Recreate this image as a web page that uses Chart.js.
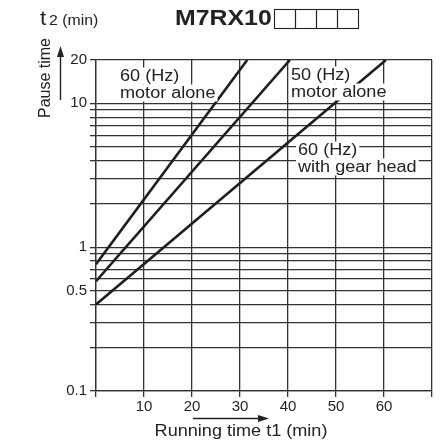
<!DOCTYPE html>
<html>
<head>
<meta charset="utf-8">
<script src="https://cdn.jsdelivr.net/npm/chart.js@4/dist/chart.umd.min.js"></script>
<style>
  html, body { margin: 0; padding: 0; background: #fff; }
  #wrap { width: 446px; height: 445px; }
</style>
</head>
<body>
<div id="wrap"><canvas id="chart" width="446" height="445"></canvas></div>
<script>
// grid values (log y axis) and the labelled ones
const yGrid = [0.1, 0.2, 0.3, 0.4, 0.5, 0.6, 0.7, 0.8, 0.9, 1, 2, 3, 4, 5, 6, 7, 8, 9, 10, 20];
const yLabels = [0.1, 0.5, 1, 10, 20];
const xLabels = [10, 20, 30, 40, 50, 60];

// running time t1 (min) vs pause time t2 (min)
const motor60 = [{ x: 0, y: 0.76 }, { x: 31.5, y: 20 }];
const motor50 = [{ x: 0, y: 0.58 }, { x: 40.4, y: 20 }];
const gear60 = [{ x: 0, y: 0.40 }, { x: 60.4, y: 20 }];

const FONT = "'Liberation Sans', Arial, sans-serif";
const SX = 1.13; // picture text is a bit wide

function wideText(ctx, str, x, y, size, weight, align) {
  ctx.save();
  ctx.font = (weight || "normal") + " " + size + "px " + FONT;
  ctx.translate(x, y);
  ctx.scale(SX, 1);
  ctx.textAlign = align || "left";
  ctx.textBaseline = "middle";
  ctx.fillText(str, 0, 0);
  ctx.restore();
}

// text labels inside the plot, each line on a white patch
function boxedLabel(ctx, lines, x, y) {
  ctx.save();
  ctx.font = "16px " + FONT;
  lines.forEach((str, i) => {
    const cy = y + i * 17;
    const w = ctx.measureText(str).width * SX;
    ctx.fillStyle = "#fff";
    ctx.fillRect(x - 2, cy - 8.5, w + 4, 17);
    ctx.fillStyle = "#222";
    wideText(ctx, str, x, cy + 1, 16);
  });
  ctx.restore();
}

const extras = {
  id: "extras",
  afterDatasetsDraw(chart) {
    const ctx = chart.ctx;
    boxedLabel(ctx, ["60 (Hz)", "motor alone"], 120, 76);
    boxedLabel(ctx, ["50 (Hz)", "motor alone"], 291, 75);
    boxedLabel(ctx, ["60 (Hz)", "with gear head"], 298, 150);
  },
  afterDraw(chart) {
    const ctx = chart.ctx;
    ctx.save();
    ctx.fillStyle = "#222";
    ctx.strokeStyle = "#222";

    // title with the four blank boxes
    wideText(ctx, "M7RX10", 175, 19, 22, "bold");
    ctx.lineWidth = 1.1;
    for (let i = 0; i < 4; i++) {
      ctx.strokeRect(274.5 + i * 21, 9.5, 21, 19);
    }

    // unit at top of y axis
    wideText(ctx, "t", 40, 19, 20);
    wideText(ctx, "2 (min)", 49, 21, 14);

    // y axis title and arrow
    ctx.save();
    ctx.translate(46, 78);
    ctx.rotate(-Math.PI / 2);
    ctx.font = "16px " + FONT;
    ctx.textAlign = "center";
    ctx.textBaseline = "middle";
    ctx.fillText("Pause time", 0, 0);
    ctx.restore();
    ctx.lineWidth = 1.4;
    ctx.beginPath();
    ctx.moveTo(60.5, 100);
    ctx.lineTo(60.5, 55);
    ctx.stroke();
    ctx.beginPath();
    ctx.moveTo(60.5, 46);
    ctx.lineTo(57, 57);
    ctx.lineTo(64, 57);
    ctx.closePath();
    ctx.fill();

    // x axis title and arrow
    wideText(ctx, "Running time t1 (min)", 241, 432, 16, "normal", "center");
    ctx.beginPath();
    ctx.moveTo(193, 418.5);
    ctx.lineTo(260, 418.5);
    ctx.stroke();
    ctx.beginPath();
    ctx.moveTo(269, 418.5);
    ctx.lineTo(258, 415);
    ctx.lineTo(258, 422);
    ctx.closePath();
    ctx.fill();
    ctx.restore();
  }
};

const lineStyle = { borderColor: "#1e1e1e", borderWidth: 2.6, pointRadius: 0, fill: false, tension: 0 };

new Chart(document.getElementById("chart"), {
  type: "line",
  data: {
    datasets: [
      { label: "60 (Hz) motor alone", data: motor60, ...lineStyle },
      { label: "50 (Hz) motor alone", data: motor50, ...lineStyle },
      { label: "60 (Hz) with gear head", data: gear60, ...lineStyle }
    ]
  },
  options: {
    responsive: false,
    animation: false,
    devicePixelRatio: 1,
    layout: { padding: { left: 0, right: 14, top: 60, bottom: 0 } },
    plugins: { legend: { display: false }, tooltip: { enabled: false }, title: { display: false } },
    scales: {
      x: {
        type: "linear",
        min: 0,
        max: 70,
        afterFit: (s) => { s.height = 54; },
        ticks: {
          stepSize: 10,
          autoSkip: false,
          maxRotation: 0,
          padding: 1,
          color: "#222",
          font: { family: FONT, size: 15 },
          callback: (v) => (xLabels.includes(v) ? String(v) : "")
        },
        grid: { color: "#333", lineWidth: 1.3, tickLength: 6, drawTicks: true },
        border: { display: true, color: "#333", width: 1.3 }
      },
      y: {
        type: "logarithmic",
        min: 0.1,
        max: 20,
        afterFit: (s) => { s.width = 96; },
        afterBuildTicks: (s) => { s.ticks = yGrid.map((v) => ({ value: v })); },
        ticks: {
          autoSkip: false,
          padding: 3,
          color: "#222",
          font: { family: FONT, size: 15 },
          callback: (v) => (yLabels.includes(v) ? String(v) : "")
        },
        grid: { color: "#333", lineWidth: 1.3, tickLength: 6, drawTicks: true },
        border: { display: true, color: "#333", width: 1.3 }
      }
    }
  },
  plugins: [extras]
});
</script>
</body>
</html>
